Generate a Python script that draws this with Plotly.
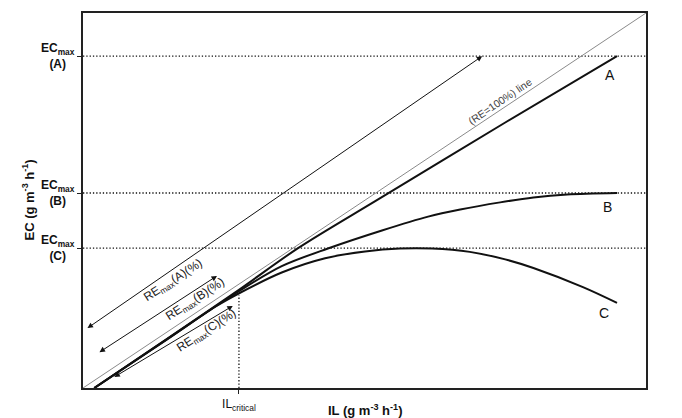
import plotly.graph_objects as go

# ---- data (data units: x = IL 0..100, y = EC 0..100) ----
re100_x = [0, 100]
re100_y = [0, 100]

curveA_x = [2.0, 15.0, 27.7, 38.2, 52.2, 75.0, 94.85]
curveA_y = [0.0, 13.2, 26.2, 37.3, 50.1, 70.8, 88.5]

curveB_x = [2.0, 15.0, 27.9, 35.3, 43.5, 53.1, 61.3, 67.0, 74.1, 80.0, 86.0, 94.85]
curveB_y = [0.0, 13.1, 26.0, 32.5, 37.2, 42.0, 45.7, 47.6, 49.5, 50.8, 51.6, 52.0]

curveC_x = [2.0, 15.0, 23.4, 27.9, 35.3, 43.0, 50.1, 56.3, 62.0, 68.7, 75.0, 80.0, 88.8, 94.85]
curveC_y = [0.0, 13.0, 21.6, 25.4, 30.8, 34.6, 36.4, 37.2, 37.2, 36.3, 34.3, 32.0, 26.9, 22.7]

ecmax_levels = [88.5, 52.0, 37.3]
ecmax_names = ["(A)", "(B)", "(C)"]
il_critical = 27.7
il_critical_top = 24.8

curve_labels = ["A", "B", "C"]
curve_label_x = [93.6, 93.1, 92.5]
curve_label_y = [83.5, 48.3, 20.0]

arrow_tail_x = [0.53, 2.66, 5.3]
arrow_tail_y = [15.7, 9.3, 2.7]
arrow_head_x = [70.9, 23.8, 26.6]
arrow_head_y = [88.5, 29.9, 21.9]

re_labels = ["RE<sub>max</sub>(A)(%)", "RE<sub>max</sub>(B)(%)", "RE<sub>max</sub>(C)(%)"]
re_label_x = [16.0, 19.9, 22.0]
re_label_y = [28.5, 23.5, 15.2]

FONT = "Arial, Liberation Sans, sans-serif"
DOT = "1.3px,2px"

fig = go.Figure()

# dotted EC_max lines
for lvl in ecmax_levels:
    fig.add_trace(go.Scatter(x=[0, 100], y=[lvl, lvl], mode="lines",
                             line=dict(color="#111", width=1.3, dash=DOT),
                             hoverinfo="skip", showlegend=False))
# IL critical dotted
fig.add_trace(go.Scatter(x=[il_critical, il_critical], y=[0, il_critical_top], mode="lines",
                         line=dict(color="#111", width=1.3, dash=DOT),
                         hoverinfo="skip", showlegend=False))
# RE=100% line
fig.add_trace(go.Scatter(x=re100_x, y=re100_y, mode="lines",
                         line=dict(color="#8a8a8a", width=1),
                         hoverinfo="skip", showlegend=False))
for cx, cy in [(curveA_x, curveA_y), (curveB_x, curveB_y), (curveC_x, curveC_y)]:
    fig.add_trace(go.Scatter(x=cx, y=cy, mode="lines",
                             line=dict(color="#111", width=2, shape="spline", smoothing=0.9),
                             hoverinfo="skip", showlegend=False))

ann = []
# arrows
for tx, ty, hx, hy in zip(arrow_tail_x, arrow_tail_y, arrow_head_x, arrow_head_y):
    ann.append(dict(x=hx, y=hy, ax=tx, ay=ty, xref="x", yref="y", axref="x", ayref="y",
                    text="", showarrow=True, arrowhead=2, arrowside="end+start",
                    arrowsize=1.1, arrowwidth=1, arrowcolor="#111"))
# RE labels
for t, x, y in zip(re_labels, re_label_x, re_label_y):
    ann.append(dict(x=x, y=y, xref="x", yref="y", text=t, showarrow=False,
                    textangle=-33, font=dict(family=FONT, size=12, color="#222")))
ann.append(dict(x=74.1, y=76.5, xref="x", yref="y", text="(RE=100%) line", showarrow=False,
                textangle=-34, font=dict(family=FONT, size=10.5, color="#444")))
# curve labels
for t, x, y in zip(curve_labels, curve_label_x, curve_label_y):
    ann.append(dict(x=x, y=y, xref="x", yref="y", text=t, showarrow=False,
                    font=dict(family=FONT, size=14, color="#111")))
# EC_max labels
for lvl, nm in zip(ecmax_levels, ecmax_names):
    ann.append(dict(x=0, y=lvl, xref="paper", yref="y", xanchor="right", yanchor="middle",
                    xshift=-6, align="center",
                    text="<b>EC<sub>max</sub></b><br><b>" + nm + "</b>",
                    showarrow=False, font=dict(family=FONT, size=12, color="#111")))
# axis titles
ann.append(dict(x=0, y=0.5, xref="paper", yref="paper", xshift=-65, textangle=-90,
                text="<b>EC (g m<sup>-3</sup> h<sup>-1</sup>)</b>", showarrow=False,
                font=dict(family=FONT, size=13, color="#111")))
ann.append(dict(x=0.5, y=0, xref="paper", yref="paper", yshift=-22, yanchor="middle",
                text="<b>IL (g m<sup>-3</sup> h<sup>-1</sup>)</b>", showarrow=False,
                font=dict(family=FONT, size=13, color="#111")))

fig.update_layout(
    width=682, height=418,
    margin=dict(l=83, r=36, t=13, b=30, autoexpand=False),
    plot_bgcolor="white", paper_bgcolor="white",
    annotations=ann,
    xaxis=dict(range=[0, 100], showgrid=False, zeroline=False, automargin=False,
               showline=True, mirror=True, linecolor="#222", linewidth=2,
               tickvals=[il_critical], ticktext=["IL<sub>critical</sub>"],
               ticks="outside", ticklen=4, tickcolor="#222",
               tickfont=dict(family=FONT, size=12, color="#111")),
    yaxis=dict(range=[0, 100], showgrid=False, zeroline=False, automargin=False,
               showline=True, mirror=True, linecolor="#222", linewidth=2,
               tickvals=ecmax_levels, ticktext=["", "", ""],
               ticks="outside", ticklen=4, tickcolor="#222"),
)

fig.write_html("out.html")
